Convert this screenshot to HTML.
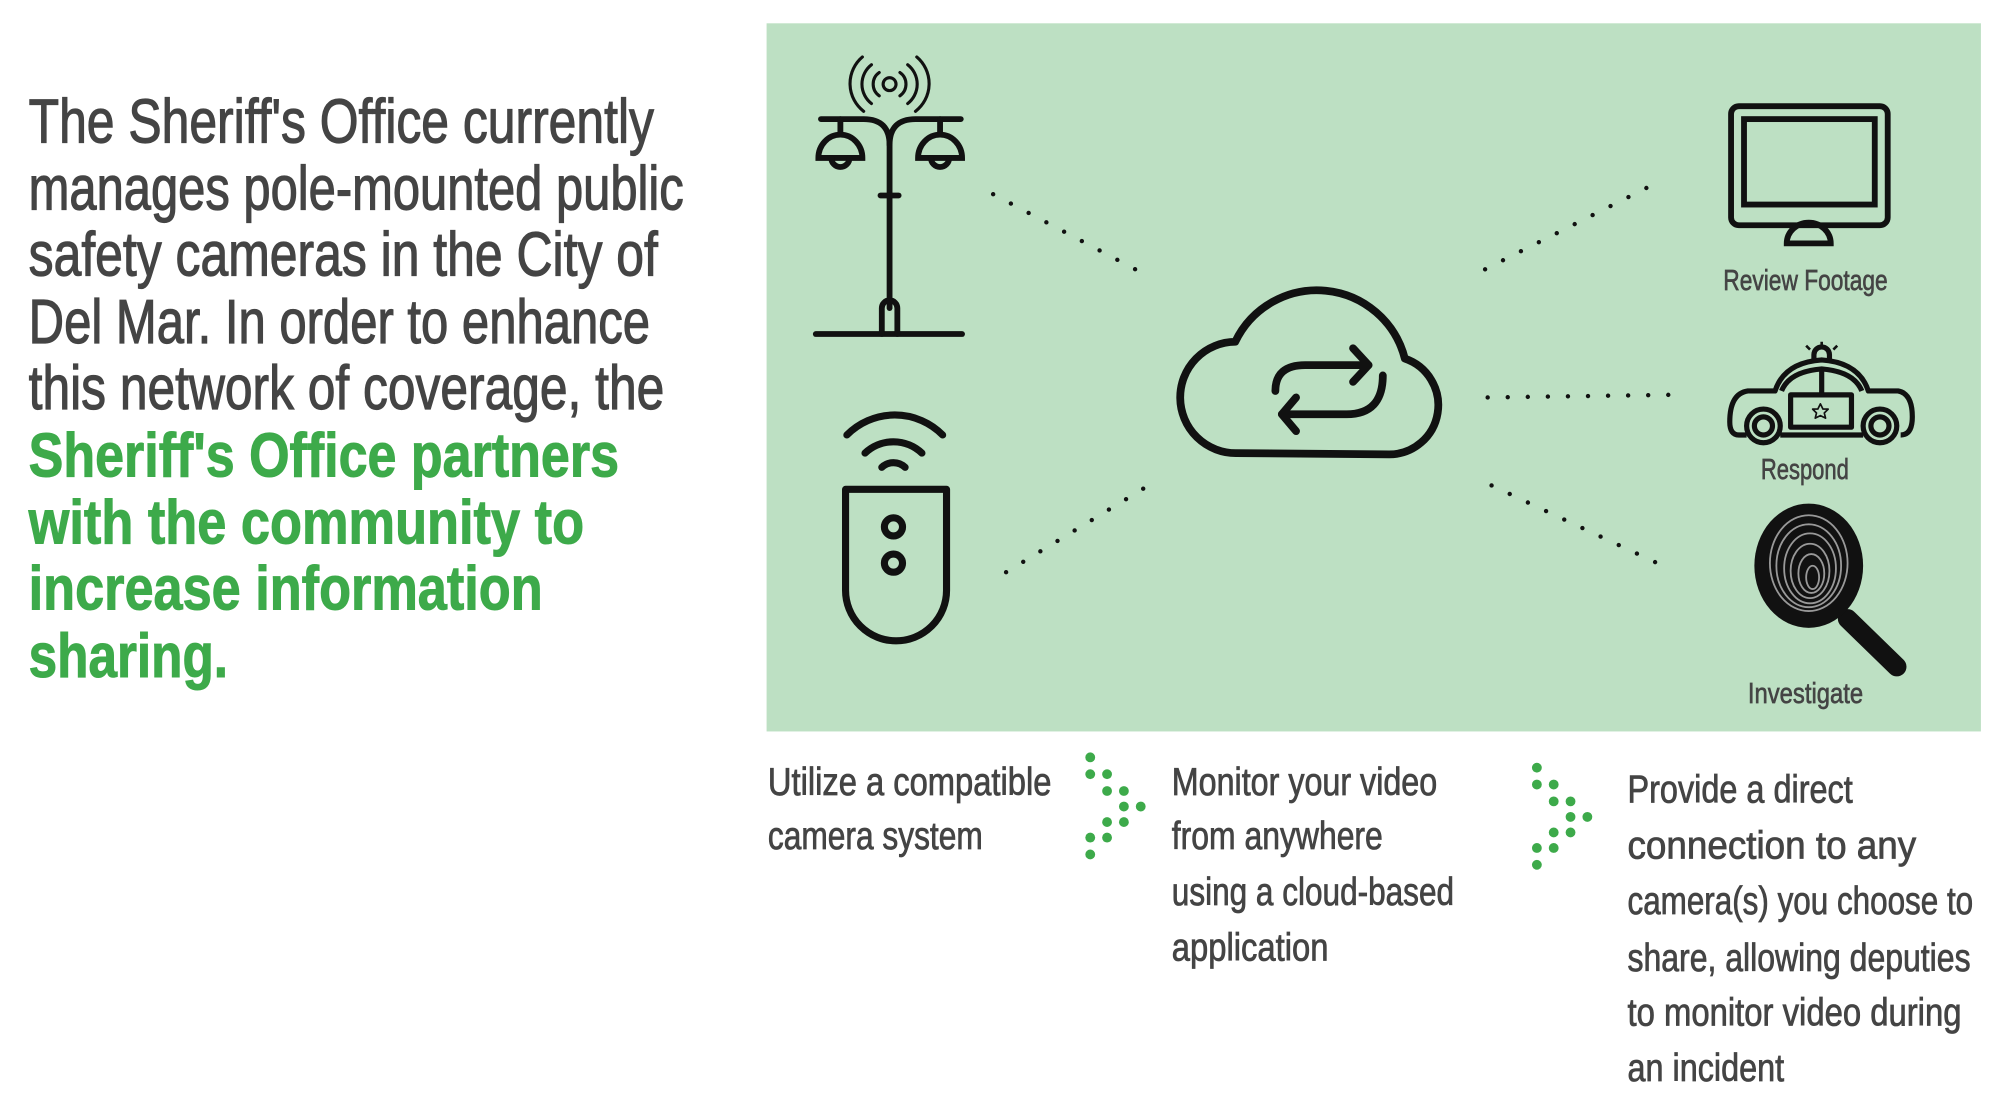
<!DOCTYPE html>
<html><head><meta charset="utf-8"><style>
html,body{margin:0;padding:0;background:#fff;}
svg{display:block;}
text{font-family:"Liberation Sans Narrow","Liberation Sans",sans-serif;}
</style></head><body>
<svg width="2007" height="1103" viewBox="0 0 1550 852" xmlns="http://www.w3.org/2000/svg">
<rect width="1550" height="852" fill="#fff"/>
<g font-size="48" fill="#444" stroke="#444" stroke-width="0.9">
<text x="22" y="110" textLength="483" lengthAdjust="spacingAndGlyphs">The Sheriff's Office currently</text>
<text x="22" y="162" textLength="506" lengthAdjust="spacingAndGlyphs">manages pole-mounted public</text>
<text x="22" y="213" textLength="486" lengthAdjust="spacingAndGlyphs">safety cameras in the City of</text>
<text x="22" y="265" textLength="480" lengthAdjust="spacingAndGlyphs">Del Mar. In order to enhance</text>
<text x="22" y="316" textLength="491" lengthAdjust="spacingAndGlyphs">this network of coverage, the</text>
</g>
<g font-size="48" fill="#3daa4a" stroke="#3daa4a" stroke-width="0.8" font-weight="bold">
<text x="22" y="368" textLength="456" lengthAdjust="spacingAndGlyphs">Sheriff's Office partners</text>
<text x="22" y="420" textLength="429" lengthAdjust="spacingAndGlyphs">with the community to</text>
<text x="22" y="471" textLength="397" lengthAdjust="spacingAndGlyphs">increase information</text>
<text x="22" y="523" textLength="154" lengthAdjust="spacingAndGlyphs">sharing.</text>
</g>
<rect x="592" y="18" width="938" height="547" fill="#bde0c3"/>
<g stroke="#111" stroke-width="3.4" stroke-linecap="round" stroke-dasharray="0 15.5" fill="none">
<line x1="767" y1="150" x2="890" y2="215"/>
<line x1="777" y1="442" x2="887" y2="375"/>
<line x1="1147" y1="208" x2="1272" y2="145"/>
<line x1="1149" y1="307" x2="1290" y2="305"/>
<line x1="1152" y1="375" x2="1280" y2="435"/>
</g>
<g stroke="#111" stroke-width="4.5" fill="none" stroke-linecap="round">
<line x1="630" y1="258" x2="743" y2="258"/>
<path d="M681 258 V238 a6 6 0 0 1 12 0 V258"/>
<line x1="687" y1="238" x2="687" y2="110"/>
<path d="M687 112 Q687 92 667 92 H634 M687 112 Q687 92 707 92 H742"/>
<line x1="680" y1="151" x2="694" y2="151"/>
<line x1="649" y1="92" x2="649" y2="103"/>
<line x1="726" y1="92" x2="726" y2="103"/>
<path d="M632 122 a17 18 0 0 1 34 0 Z"/>
<path d="M709 122 a17 18 0 0 1 34 0 Z"/>
<path d="M642 122 a7 7 0 0 0 14 0 M719 122 a7 7 0 0 0 14 0"/>
<g stroke-width="2.4">
<circle cx="687" cy="65" r="5"/>
<path d="M679 56 a11 11 0 0 0 0 18 M695 56 a11 11 0 0 1 0 18"/>
<path d="M673 50 a19 19 0 0 0 0 30 M701 50 a19 19 0 0 1 0 30"/>
<path d="M666 44 a27 27 0 0 0 1 42 M708 44 a27 27 0 0 1 -1 42"/>
</g>
</g>
<g stroke="#111" stroke-width="5.5" fill="none" stroke-linecap="round">
<path d="M654 336 a52 52 0 0 1 74 0"/>
<path d="M668 350 a32 32 0 0 1 44 0"/>
<path d="M681 361 a13 13 0 0 1 18 0"/>
<path d="M653 378 H731 V456 a39 39 0 0 1 -78 0 Z" stroke-linejoin="round"/>
<circle cx="690" cy="407" r="7"/>
<circle cx="690" cy="435" r="7"/>
</g>
<g stroke="#111" stroke-width="6" fill="none" stroke-linecap="round" stroke-linejoin="round">
<path d="M955 350 A43 43 0 0 1 954 264 A70 70 0 0 1 1085 277 A38 38 0 0 1 1073 351 Z"/>
<path d="M985 302 Q985 282 1008 282 H1057"/>
<path d="M1045 269 L1057 282 L1045 295"/>
<path d="M1068 290 Q1068 320 1040 320 H990"/>
<path d="M1001 307 L990 320 L1001 333"/>
</g>
<g stroke="#111" stroke-width="4.5" fill="none">
<rect x="1337" y="82" width="121" height="92" rx="6"/>
<rect x="1347" y="92" width="101" height="66"/>
<path d="M1380 188 a17 16 0 0 1 34 0 Z"/>
</g>
<g font-size="22" fill="#444" stroke="#444" stroke-width="0.5">
<text x="1331" y="224" textLength="127" lengthAdjust="spacingAndGlyphs">Review Footage</text>
<text x="1360" y="370" textLength="68" lengthAdjust="spacingAndGlyphs">Respond</text>
<text x="1350" y="543" textLength="89" lengthAdjust="spacingAndGlyphs">Investigate</text>
</g>
<g stroke="#111" stroke-width="4" fill="none" stroke-linejoin="round">
<path d="M1349 336 H1343 Q1336 336 1336 326 Q1336 304 1350 302 H1371 Q1378 280 1407 278 Q1436 280 1443 302 H1466 Q1477 304 1477 322 Q1477 336 1468 336"/>
<path d="M1376 302 Q1382 287 1407 285 Q1432 287 1438 302"/>
<line x1="1407" y1="285" x2="1407" y2="305"/>
<rect x="1383" y="305" width="47" height="25"/>
<line x1="1375" y1="336" x2="1439" y2="336"/>
<path d="M1401 278 v-4 a6 6 0 0 1 12 0 v4"/>
<path d="M1407 268 v-4 M1398 270 l-3 -3 M1416 270 l3 -3" stroke-width="2"/>
<circle cx="1362" cy="329" r="13"/>
<circle cx="1362" cy="329" r="7"/>
<circle cx="1452" cy="329" r="13"/>
<circle cx="1452" cy="329" r="7"/>
<path d="M1406 312 l2 4 4 0 -3 3 1 4 -4 -2 -4 2 1 -4 -3 -3 4 0 z" stroke-width="1.3"/>
</g>
<line x1="1427" y1="478" x2="1465" y2="515" stroke="#111" stroke-width="15" stroke-linecap="round"/>
<ellipse cx="1397" cy="437" rx="42" ry="48" fill="#111"/>
<g fill="none" stroke="#999" stroke-width="1.4">
<ellipse cx="1397" cy="435" rx="30" ry="37"/>
<ellipse cx="1397" cy="437" rx="25" ry="32"/>
<ellipse cx="1398" cy="439" rx="20" ry="27"/>
<ellipse cx="1398" cy="441" rx="15" ry="21"/>
<ellipse cx="1399" cy="443" rx="10" ry="15"/>
<ellipse cx="1400" cy="446" rx="5" ry="9"/>
</g>
<g fill="#3daa4a">
<g id="chev">
<circle cx="842" cy="585" r="3.8"/>
<circle cx="842" cy="598" r="3.8"/><circle cx="855" cy="598" r="3.8"/>
<circle cx="855" cy="611" r="3.8"/><circle cx="868" cy="611" r="3.8"/>
<circle cx="868" cy="623" r="3.8"/><circle cx="881" cy="623" r="3.8"/>
<circle cx="855" cy="635" r="3.8"/><circle cx="868" cy="635" r="3.8"/>
<circle cx="842" cy="647" r="3.8"/><circle cx="855" cy="647" r="3.8"/>
<circle cx="842" cy="660" r="3.8"/>
</g>
<use href="#chev" transform="translate(345,8)"/>
</g>
<g font-size="30" fill="#444" stroke="#444" stroke-width="0.6">
<text x="593" y="614" textLength="219" lengthAdjust="spacingAndGlyphs">Utilize a compatible</text>
<text x="593" y="656" textLength="166" lengthAdjust="spacingAndGlyphs">camera system</text>
<text x="905" y="614" textLength="205" lengthAdjust="spacingAndGlyphs">Monitor your video</text>
<text x="905" y="656" textLength="163" lengthAdjust="spacingAndGlyphs">from anywhere</text>
<text x="905" y="699" textLength="218" lengthAdjust="spacingAndGlyphs">using a cloud-based</text>
<text x="905" y="742" textLength="121" lengthAdjust="spacingAndGlyphs">application</text>
<text x="1257" y="620" textLength="174" lengthAdjust="spacingAndGlyphs">Provide a direct</text>
<text x="1257" y="663" textLength="223" lengthAdjust="spacingAndGlyphs">connection to any</text>
<text x="1257" y="706" textLength="267" lengthAdjust="spacingAndGlyphs">camera(s) you choose to</text>
<text x="1257" y="750" textLength="265" lengthAdjust="spacingAndGlyphs">share, allowing deputies</text>
<text x="1257" y="792" textLength="258" lengthAdjust="spacingAndGlyphs">to monitor video during</text>
<text x="1257" y="835" textLength="121" lengthAdjust="spacingAndGlyphs">an incident</text>
</g>
</svg>
</body></html>
